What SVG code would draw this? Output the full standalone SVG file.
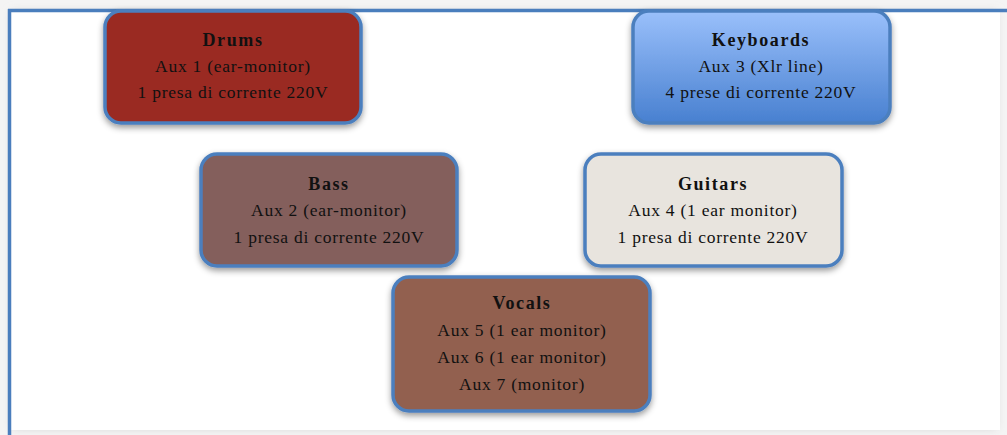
<svg xmlns="http://www.w3.org/2000/svg" width="1007" height="435" viewBox="0 0 1007 435">
<defs>
<filter id="pageShadow" x="-5%" y="-5%" width="110%" height="110%">
<feGaussianBlur stdDeviation="5"/>
</filter>
<filter id="shadow" x="-10%" y="-10%" width="120%" height="130%">
<feDropShadow dx="0" dy="3" stdDeviation="3" flood-color="#000" flood-opacity="0.4"/>
</filter>
<linearGradient id="kbGrad" x1="0" y1="0" x2="0" y2="1">
<stop offset="0" stop-color="#9ac0fb"/>
<stop offset="1" stop-color="#4880d0"/>
</linearGradient>
<style>
.box{stroke:#4c7fbe;stroke-width:3.5;filter:url(#shadow)}
.t{font-family:"Liberation Serif",serif;font-size:17.5px;letter-spacing:0.75px;fill:#111;text-anchor:middle}
.b{font-weight:bold;font-size:18px;letter-spacing:1.6px}
</style>
</defs>
<rect width="1007" height="435" fill="#f4f4f4"/>
<rect x="12" y="12" width="984" height="416" fill="#cfcfcf" filter="url(#pageShadow)"/>
<rect x="10" y="10" width="990" height="420" fill="#ffffff"/>
<g id="frame" stroke="#4a7ebd" stroke-width="3.5" fill="none">
<line x1="8" y1="10.5" x2="1007" y2="10.5"/>
<line x1="9.5" y1="9" x2="9.5" y2="435"/>
</g>
<g id="connectors"></g>
<g id="drums">
<rect class="box" x="105" y="11" width="256" height="112" rx="16" fill="#9a2b20"/>
<text class="t b" x="233" y="46">Drums</text>
<text class="t" x="233" y="72">Aux 1 (ear-monitor)</text>
<text class="t" x="233" y="98">1 presa di corrente 220V</text>
</g>
<g id="keyboards">
<rect class="box" x="633" y="11" width="257" height="112" rx="16" fill="url(#kbGrad)"/>
<text class="t b" x="761" y="46">Keyboards</text>
<text class="t" x="761" y="72">Aux 3 (Xlr line)</text>
<text class="t" x="761" y="98">4 prese di corrente 220V</text>
</g>
<g id="bass">
<rect class="box" x="201" y="154" width="256" height="112" rx="16" fill="#845e5c"/>
<text class="t b" x="329" y="190">Bass</text>
<text class="t" x="329" y="216">Aux 2 (ear-monitor)</text>
<text class="t" x="329" y="243">1 presa di corrente 220V</text>
</g>
<g id="guitars">
<rect class="box" x="585" y="154" width="257" height="112" rx="16" fill="#e8e4de"/>
<text class="t b" x="713" y="190">Guitars</text>
<text class="t" x="713" y="216">Aux 4 (1 ear monitor)</text>
<text class="t" x="713" y="243">1 presa di corrente 220V</text>
</g>
<g id="vocals">
<rect class="box" x="393" y="277" width="257" height="134" rx="16" fill="#926050"/>
<text class="t b" x="522" y="309">Vocals</text>
<text class="t" x="522" y="336">Aux 5 (1 ear monitor)</text>
<text class="t" x="522" y="363">Aux 6 (1 ear monitor)</text>
<text class="t" x="522" y="390">Aux 7 (monitor)</text>
</g>
</svg>
